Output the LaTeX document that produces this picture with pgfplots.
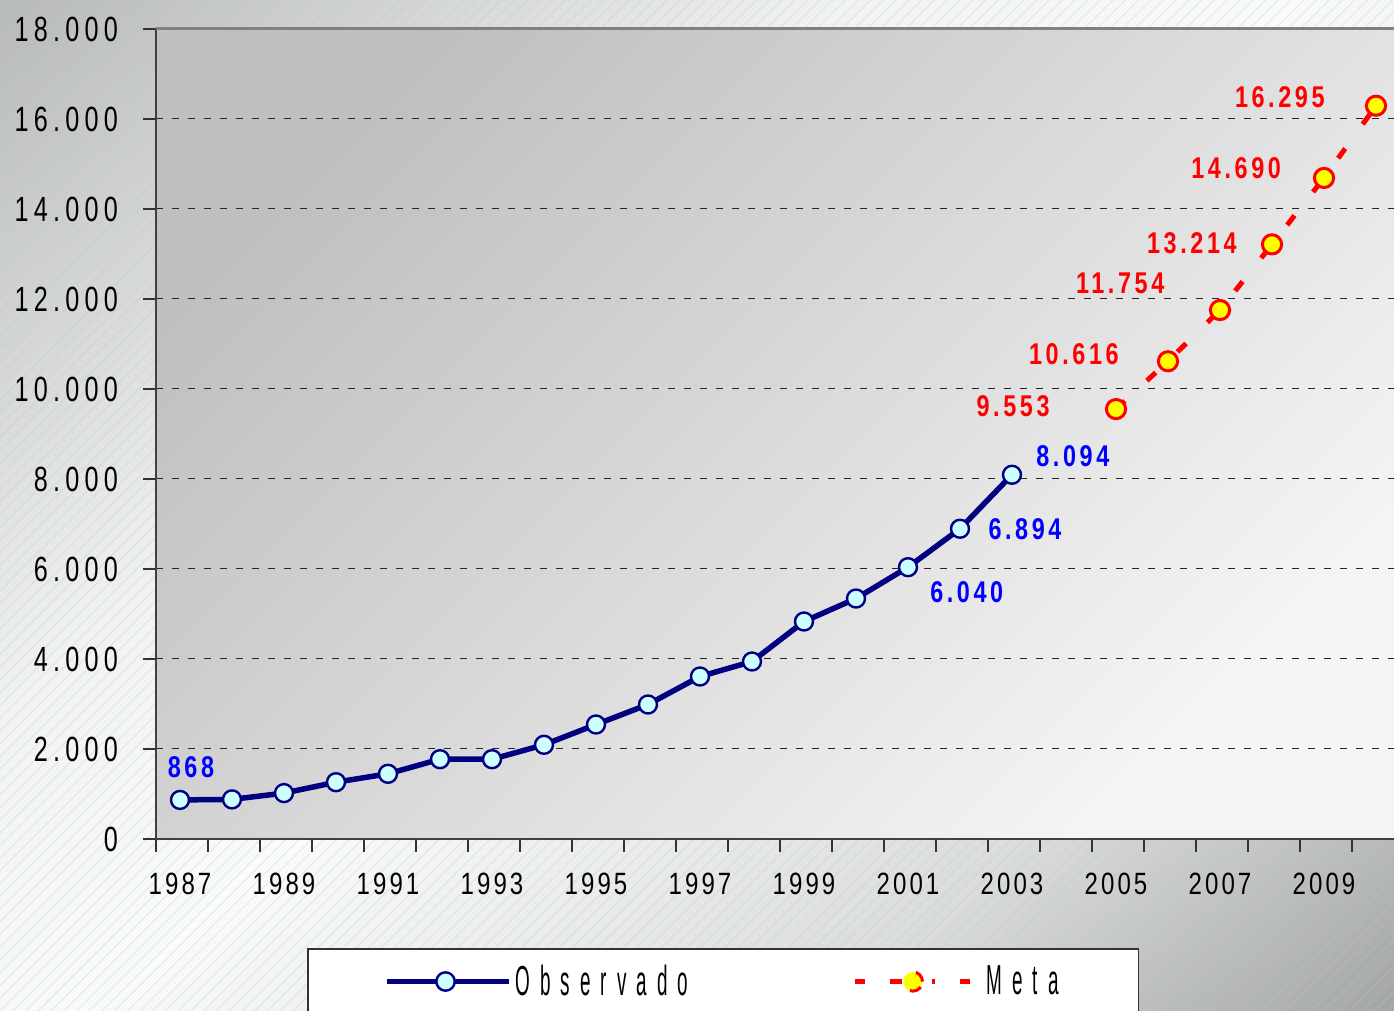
\documentclass[border=0pt]{standalone}
\usepackage{fontspec}
\setmainfont{Liberation Sans}[FakeStretch=0.82]
\newfontfamily\ytfont{Liberation Sans}[FakeStretch=0.72, LetterSpace=15]
\newfontfamily\xtfont{Liberation Sans}[FakeStretch=0.78, LetterSpace=10]
\newfontfamily\dlfont{Liberation Sans}[FakeStretch=0.78, LetterSpace=12]
\newfontfamily\lgfont{Liberation Sans}[FakeStretch=0.45, LetterSpace=24]
\usepackage{pgfplots}
\usetikzlibrary{patterns.meta}
\pgfplotsset{compat=1.18}
\definecolor{obsline}{HTML}{000080}
\definecolor{obsfill}{HTML}{CCFFFF}
\definecolor{metred}{HTML}{FF0000}
\definecolor{metyel}{HTML}{FFFF00}
\definecolor{dlblue}{HTML}{0000FF}
\definecolor{hatch}{HTML}{9ED8D0}
\pgfdeclareverticalshading{bgshade}{100bp}{color(0bp)=(black!56); color(30bp)=(black!14); color(50bp)=(black!2); color(62bp)=(black!5); color(100bp)=(black!42)}

\pgfplotstableread{
x y
0 868
1 880
2 1020
3 1262
4 1449
5 1773
6 1773
7 2093
8 2544
9 2989
10 3611
11 3944
12 4833
13 5344
14 6040
15 6894
16 8094
}\obsdata
\pgfplotstableread{
x y
18 9553
19 10616
20 11754
21 13214
22 14690
23 16295
}\metadata

\begin{document}
\begin{tikzpicture}[x=1pt,y=1pt]
\useasboundingbox (0,0) rectangle (697,505.5);
\clip (0,0) rectangle (697,505.5);
\shade[shading=bgshade, shading angle=40] (0,0) rectangle (697,505.5);
\fill[pattern={Lines[angle=45, distance=4.5pt, line width=0.35pt]}, pattern color=hatch, opacity=0.45] (0,0) rectangle (697,505.5);
\shade[top color=black!25, bottom color=black!4, shading angle=45] (78,86) rectangle (697,491);
\begin{axis}[
  at={(78pt,86pt)}, anchor=south west,
  scale only axis, width=619pt, height=405pt,
  xmin=-0.4615, xmax=23.346, ymin=0, ymax=18000,
  scaled y ticks=false,
  axis x line*=bottom, axis y line*=left,
  axis line style={draw=black!75, line width=1pt},
  tick align=outside,
  major tick length=6.5pt,
  tick style={draw=black!80, line width=0.8pt},
  ytick={0,2000,...,18000},
  yticklabels={0,2.000,4.000,6.000,8.000,10.000,12.000,14.000,16.000,18.000},
  yticklabel style={font=\ytfont\fontsize{17.5}{20}\selectfont, xshift=-9pt},
  xtick={-0.4615,0.5385,...,23},
  xticklabels={},
  xticklabel style={font=\xtfont\fontsize{15.4}{18}\selectfont, anchor=center, yshift=-22.5pt},
  extra x ticks={0,2,...,22},
  extra x tick labels={1987,1989,1991,1993,1995,1997,1999,2001,2003,2005,2007,2009},
  extra x tick style={major tick length=0pt},
  ymajorgrids,
  major grid style={draw=black!85, line width=0.5pt, dash pattern=on 3.5pt off 4.5pt},
  clip=false,
  legend columns=2,
  legend style={at={(0.12197,-0.13457)}, anchor=north west, draw=black!80, line width=0.8pt, fill=white,
    font=\lgfont\fontsize{21}{24}\selectfont, inner xsep=38pt, inner ysep=6pt,
    /tikz/every even column/.append style={column sep=80pt}},
]
\addplot[obsline, line width=2.75pt, mark=*, mark size=4.5pt,
  mark options={draw=obsline, fill=obsfill, line width=1.2pt, solid},
  legend image code/.code={
    \draw[obsline, line width=2.75pt] (0pt,0pt) -- (61pt,0pt);
    \draw[obsline, line width=1.2pt, fill=obsfill] (29.5pt,0pt) circle (4.6pt);
  }] table[x=x,y=y] {\obsdata};
\addlegendentry{Observado}
\addplot[metred, line width=2.5pt, dash pattern=on 6pt off 15pt, mark=*, mark size=4.8pt,
  mark options={draw=metred, fill=metyel, line width=1.5pt, solid},
  legend image code/.code={
    \draw[metred, line width=2.5pt] (0pt,0pt) -- (5pt,0pt);
    \draw[metred, line width=2.5pt] (17.5pt,0pt) -- (40pt,0pt);
    \draw[metred, line width=2.5pt] (52.5pt,0pt) -- (57.5pt,0pt);
    \draw[metred, line width=1.5pt, fill=metyel] (29pt,0pt) circle (4.8pt);
  }] table[x=x,y=y] {\metadata};
\addlegendentry{\hspace{5pt}Meta}
\node[font=\dlfont\bfseries\fontsize{15}{18}\selectfont, text=dlblue] at (axis cs:0.21,1600) {868};
\node[font=\dlfont\bfseries\fontsize{15}{18}\selectfont, text=dlblue] at (axis cs:15.13,5489) {6.040};
\node[font=\dlfont\bfseries\fontsize{15}{18}\selectfont, text=dlblue] at (axis cs:16.25,6889) {6.894};
\node[font=\dlfont\bfseries\fontsize{15}{18}\selectfont, text=dlblue] at (axis cs:17.17,8511) {8.094};
\node[font=\dlfont\bfseries\fontsize{15}{18}\selectfont, text=metred] at (axis cs:16.02,9622) {9.553};
\node[font=\dlfont\bfseries\fontsize{15}{18}\selectfont, text=metred] at (axis cs:17.19,10778) {10.616};
\node[font=\dlfont\bfseries\fontsize{15}{18}\selectfont, text=metred] at (axis cs:18.08,12356) {11.754};
\node[font=\dlfont\bfseries\fontsize{15}{18}\selectfont, text=metred] at (axis cs:19.46,13244) {13.214};
\node[font=\dlfont\bfseries\fontsize{15}{18}\selectfont, text=metred] at (axis cs:20.31,14911) {14.690};
\node[font=\dlfont\bfseries\fontsize{15}{18}\selectfont, text=metred] at (axis cs:21.15,16489) {16.295};
\end{axis}
\draw[black!50, line width=1.5pt] (78,491) -- (697,491);
\end{tikzpicture}
\end{document}
